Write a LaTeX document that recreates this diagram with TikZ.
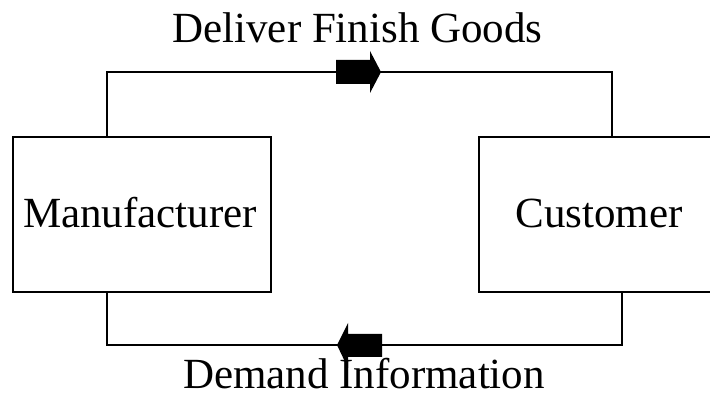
\documentclass[tikz,border=0pt]{standalone}
\usepackage{fontspec}
\setmainfont{Liberation Serif}
\begin{document}
\begin{tikzpicture}[x=1pt,y=-1pt,
  box/.style={draw=black,line width=1.1pt,rectangle,inner sep=0pt},
  wire/.style={draw=black,line width=1.1pt},
  lbl/.style={font=\fontsize{43}{50}\selectfont,inner sep=0pt,anchor=base},
  blockarrow/.style={fill=black,draw=none}]
\useasboundingbox (0,0) rectangle (710,395);
\node[box,minimum width=258pt,minimum height=155pt] (m) at (142,214.5) {};
\node[box,minimum width=241pt,minimum height=155pt] (c) at (599.5,214.5) {};
\node[lbl] (mt) at (140,228) {Manufacturer};
\node[lbl] (ct) at (599,228) {Customer};
\node[lbl] (top) at (357.5,43) {Deliver Finish Goods};
\node[lbl] (bot) at (364,389) {Demand Information};
\coordinate (tl) at (107,72);
\coordinate (tr) at (612,72);
\coordinate (bl) at (107,345);
\coordinate (br) at (622,345);
\draw[wire] (m.north -| tl) -- (tl) -- (tr) -- (c.north -| tr);
\draw[wire] (m.south -| bl) -- (bl) -- (br) -- (c.south -| br);
\fill[blockarrow] (336,60) -- (370,60) -- (370,51) -- (381,72) -- (370,93) -- (370,84) -- (336,84) -- cycle;
\fill[blockarrow] (382,334) -- (348,334) -- (348,323) -- (337,345) -- (348,368) -- (348,357) -- (382,357) -- cycle;
\end{tikzpicture}
\end{document}
